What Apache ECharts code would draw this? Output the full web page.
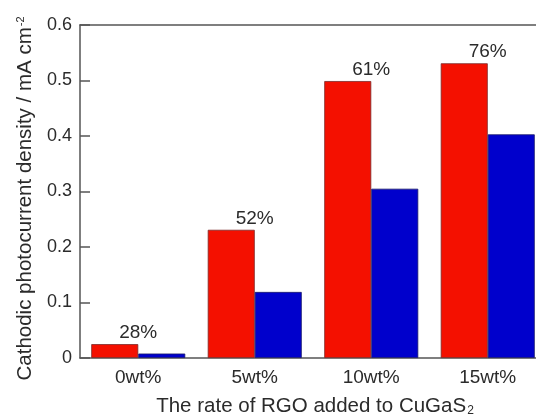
<!DOCTYPE html>
<html>
<head>
<meta charset="utf-8">
<script src="https://cdn.jsdelivr.net/npm/echarts@6/dist/echarts.min.js"></script>
<style>html,body{margin:0;padding:0;background:#fff}#c{width:536px;height:420px}</style>
</head>
<body>
<div id="c"></div>
<script>
const categories = ['0wt%', '5wt%', '10wt%', '15wt%'];
const redValues = [0.025, 0.231, 0.499, 0.531];
const blueValues = [0.008, 0.119, 0.305, 0.403];
const percentLabels = ['28%', '52%', '61%', '76%'];
const yTicks = { min: 0, max: 0.6, interval: 0.1 };

const FONT = '"Liberation Sans", Arial, sans-serif';
const TXT = '#2b2b2b';
const AX = '#555';

const chart = echarts.init(document.getElementById('c'), null, { renderer: 'canvas' });
chart.setOption({
  animation: false,
  backgroundColor: '#fff',
  textStyle: { fontFamily: FONT },
  title: {
    text: 'The rate of RGO added to CuGaS{sub|2}',
    left: 310,
    textAlign: 'center',
    top: 391,
    textStyle: {
      fontFamily: FONT, fontSize: 20.5, fontWeight: 'normal', color: TXT,
      rich: { sub: { fontSize: 12, verticalAlign: 'bottom', color: TXT, fontFamily: FONT, padding: [8, 0, 0, 1] } }
    }
  },
  grid: { left: 80, top: 25, width: 466, bottom: 62, containLabel: false, outerBoundsMode: 'none' },
  xAxis: [{
    type: 'category',
    data: categories,
    axisLine: { lineStyle: { color: AX, width: 1.5 } },
    axisTick: { inside: true, length: 10, lineStyle: { color: AX, width: 1.5 } },
    axisLabel: { fontSize: 19, color: TXT, margin: 10, fontFamily: FONT }
  }, {
    type: 'category',
    position: 'top',
    data: categories,
    axisLine: { lineStyle: { color: AX, width: 1.5 } },
    axisTick: { show: false },
    axisLabel: { show: false }
  }],
  yAxis: {
    type: 'value',
    min: yTicks.min, max: yTicks.max, interval: yTicks.interval,
    name: 'Cathodic photocurrent density / mA cm{sup|-2}',
    nameLocation: 'middle',
    nameGap: 43,
    nameTextStyle: {
      fontSize: 20.5, color: TXT, fontFamily: FONT,
      padding: [0, 14, 0, 0],
      rich: { sup: { fontSize: 11, verticalAlign: 'top', color: TXT, fontFamily: FONT, padding: [0, 0, 9, 1] } }
    },
    axisLine: { show: true, lineStyle: { color: AX, width: 1.5 } },
    axisTick: { show: true, inside: true, length: 10, lineStyle: { color: AX, width: 1.5 } },
    splitLine: { show: false },
    axisLabel: {
      fontSize: 18, color: TXT, margin: 8, fontFamily: FONT,
      formatter: v => (v === 0 ? '0' : v.toFixed(1))
    }
  },
  series: [{
    type: 'bar',
    data: redValues,
    barWidth: 47,
    barGap: '0%',
    itemStyle: { color: '#f41000', borderColor: '#7a2a2a', borderWidth: 0.8 },
    label: {
      show: true, position: 'top', distance: 2, offset: [23.5, 0],
      fontSize: 19, color: TXT, fontFamily: FONT,
      formatter: p => percentLabels[p.dataIndex]
    }
  }, {
    type: 'bar',
    data: blueValues,
    barWidth: 47,
    itemStyle: { color: '#0000cc', borderColor: '#1a1a6a', borderWidth: 0.8 }
  }]
});
</script>
</body>
</html>
